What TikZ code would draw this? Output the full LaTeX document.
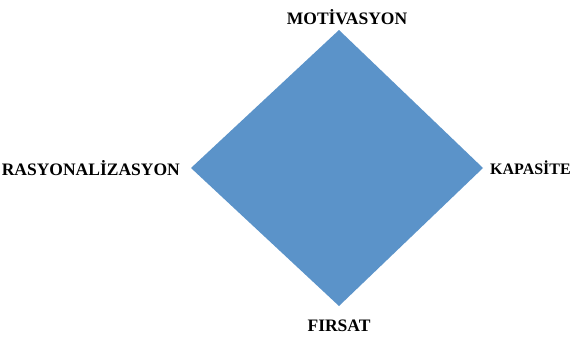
\documentclass[tikz,border=0pt]{standalone}
\usepackage{fontspec}
\setmainfont{Liberation Serif}
\usetikzlibrary{positioning}
\definecolor{diamondblue}{RGB}{91,147,201}

\begin{document}
\begin{tikzpicture}[x=1pt, y=-1pt, font=\fontsize{17.5}{20}\selectfont\bfseries,
    label/.style={inner sep=0pt}]
        \useasboundingbox (0,0) rectangle (575,340);

        % Corners of the diamond
        \coordinate (top) at (339,30);
        \coordinate (right) at (483,168);
        \coordinate (bottom) at (339,306);
        \coordinate (left) at (191,168);

        % Diamond
        \fill[diamondblue] (top) -- (right) -- (bottom) -- (left) -- cycle;

        % Labels
        \node[label] (mot) at (347,17) {MOTİVASYON};
        \node[label, font=\fontsize{16}{19}\selectfont\bfseries] (kap) [right=7pt of right] {KAPASİTE};
        \node[label] (fir) at (339,326) {FIRSAT};
        \node[label] (ras) [left=11pt of left] {RASYONALİZASYON};
    \end{tikzpicture}
\end{document}
